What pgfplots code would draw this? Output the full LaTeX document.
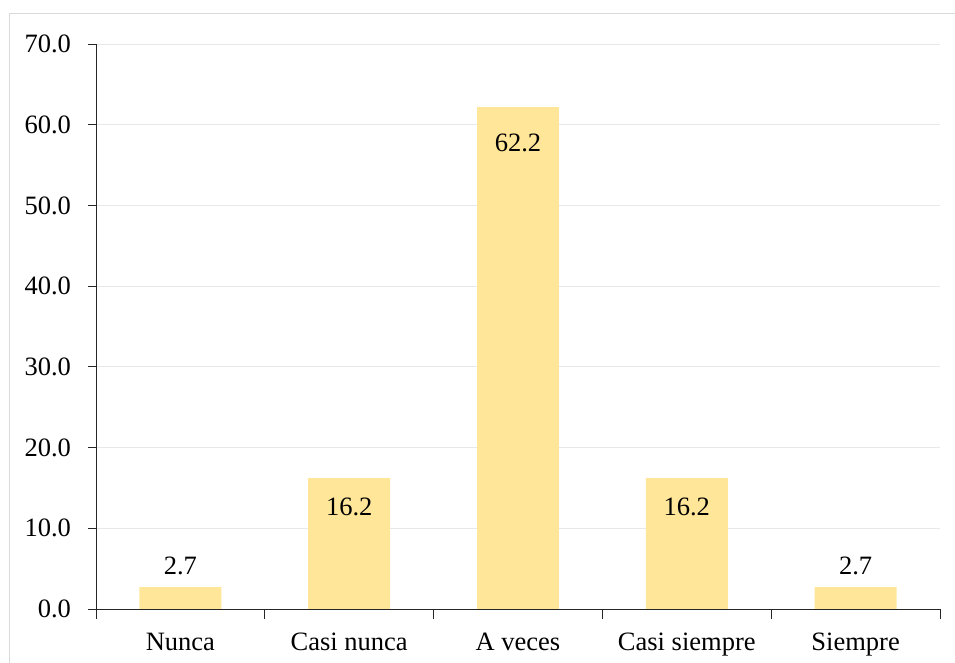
\documentclass[border=0pt]{standalone}
\usepackage{pgfplots}
\pgfplotsset{compat=1.18}
\usepackage{fontspec}
\setmainfont{Liberation Serif}
\definecolor{barcol}{HTML}{FFE699}
\definecolor{gridcol}{HTML}{E8E8E8}
\definecolor{framecol}{HTML}{D9D9D9}
\begin{document}
\fontsize{26.5bp}{31bp}\selectfont
\begin{tikzpicture}
\useasboundingbox (0,0) rectangle (955bp,663bp);
\draw[framecol, line width=1bp] (9bp,0) -- (9bp,649bp) -- (960bp,649bp);
\begin{axis}[
    at={(96bp,54bp)}, anchor=south west,
    scale only axis,
    width=844bp, height=565bp,
    xmin=-0.5, xmax=4.5,
    ymin=0, ymax=70,
    ytick={0,10,...,70},
    xtick={0,...,4},
    xticklabels={Nunca, Casi nunca, A veces, Casi siempre, Siempre},
    minor xtick={-0.5,0.5,...,4.5},
    major x tick style={draw=none},
    minor tick length=10bp,
    major tick length=8bp,
    tick align=outside,
    axis lines*=left,
    axis line style={black!85, line width=0.9bp},
    every tick/.style={black!85, line width=0.9bp},
    ymajorgrids,
    grid style={gridcol, line width=0.8bp},
    yticklabel style={/pgf/number format/fixed, /pgf/number format/precision=1, /pgf/number format/fixed zerofill, xshift=-8bp},
    /pgf/number format/assume math mode=true,
    xticklabel style={yshift=-7bp},
    ybar, bar width=82bp, bar shift=0pt,
    every axis plot/.append style={fill=barcol, draw=none},
    nodes near coords,
    nodes near coords style={/pgf/number format/fixed, /pgf/number format/precision=1, /pgf/number format/fixed zerofill, black},
]
\addplot[nodes near coords style={anchor=south, yshift=3.7bp}] coordinates {(0,2.7) (4,2.7)};
\addplot[nodes near coords style={anchor=north, yshift=-10.5bp}] coordinates {(1,16.2) (3,16.2)};
\addplot[nodes near coords style={anchor=north, yshift=-18bp}] coordinates {(2,62.2)};
\end{axis}
\end{tikzpicture}
\end{document}
